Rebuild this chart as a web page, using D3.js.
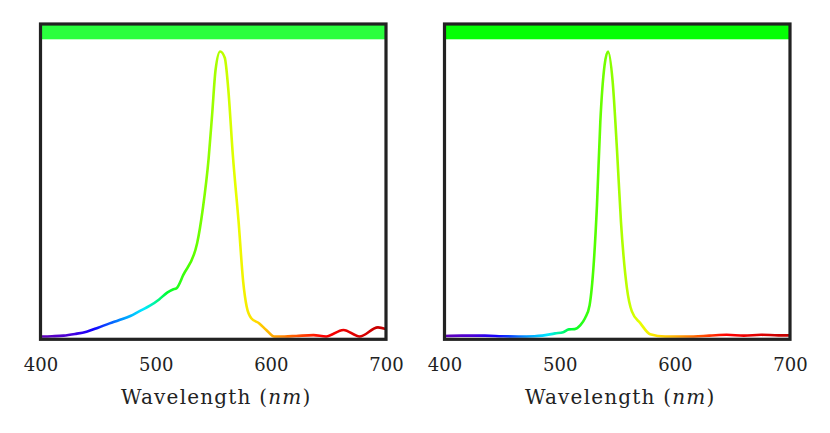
<!DOCTYPE html>
<html>
<head>
<meta charset="utf-8">
<script src="https://cdn.jsdelivr.net/npm/d3@7/dist/d3.min.js"></script>
<style>
    body { margin: 0; background: #fff; }
    svg { display: block; }
</style>
</head>
<body>
<div id="chart"></div>
<script>
// spectra, peak normalised to 1
const leftWavelength = [400, 410, 420, 430, 440, 450, 460, 468, 478, 486, 495, 503, 510, 515, 518, 524, 536, 541, 546, 549, 552, 556, 560, 563, 567, 572, 576, 579, 583, 590, 596, 603, 612, 622, 637, 648, 663, 677, 693, 700];
const leftIntensity = [0.0, 0.001, 0.003, 0.009, 0.017, 0.031, 0.046, 0.057, 0.072, 0.089, 0.108, 0.130, 0.154, 0.165, 0.169, 0.216, 0.327, 0.450, 0.625, 0.777, 0.935, 1.0, 0.978, 0.871, 0.637, 0.403, 0.192, 0.105, 0.064, 0.046, 0.023, 0.0, 0.0, 0.002, 0.005, 0.0, 0.023, 0.0, 0.032, 0.026];

const rightWavelength = [400, 415, 435, 450, 464, 478, 485, 496, 503, 508, 513, 518, 522, 526, 529.5, 532.4, 535.3, 539, 542, 546, 549.7, 553.2, 558.4, 562.7, 570, 578.6, 591.6, 610, 630, 645, 660, 675, 690, 700];
const rightIntensity = [0.002, 0.003, 0.003, 0.001, 0.0, 0.001, 0.003, 0.011, 0.015, 0.025, 0.026, 0.04, 0.064, 0.110, 0.251, 0.461, 0.753, 0.952, 1.0, 0.895, 0.661, 0.404, 0.170, 0.088, 0.047, 0.008, 0.0, 0.0, 0.003, 0.006, 0.003, 0.006, 0.004, 0.004];

const tickValues = [400, 500, 600, 700];
const panelBarColors = ['#2aff3e', '#04ff04'];

const width = 830, height = 433;

const svg = d3.select('#chart').append('svg')
    .attr('width', width)
    .attr('height', height);

const defs = svg.append('defs');

// wavelength -> visible colour
const spectrum = d3.scaleLinear()
    .domain([400, 425, 445, 470, 490, 510, 530, 550, 570, 585, 600, 620, 645, 700])
    .range(['#6000b8', '#4a00d8', '#1400ff', '#0090ff', '#00eaff', '#00ff30', '#50ff00', '#9eff00', '#e8ff00', '#ffe000', '#ffb000', '#ff5c00', '#ff0000', '#c00000'])
    .clamp(true);

const y = d3.scaleLinear().domain([0, 1]).range([336.5, 51.5]);

const panels = [
    { x0: 40.5, x1: 386, wl: leftWavelength, val: leftIntensity, bar: panelBarColors[0] },
    { x0: 444.5, x1: 790, wl: rightWavelength, val: rightIntensity, bar: panelBarColors[1] }
];

const frameTop = 24, frameBottom = 339.3;

panels.forEach((p, i) => {
    const x = d3.scaleLinear().domain([400, 700]).range([p.x0, p.x1]);
    const g = svg.append('g');

    const gradId = `spec-${i}`;
    const grad = defs.append('linearGradient')
        .attr('id', gradId)
        .attr('gradientUnits', 'userSpaceOnUse')
        .attr('x1', x(400)).attr('x2', x(700))
        .attr('y1', 0).attr('y2', 0);
    grad.selectAll('stop')
        .data(d3.range(400, 701, 5))
        .enter().append('stop')
        .attr('offset', d => (d - 400) / 300)
        .attr('stop-color', d => spectrum(d));

    const clipId = `clip-${i}`;
    defs.append('clipPath').attr('id', clipId)
        .append('rect')
        .attr('x', p.x0).attr('y', frameTop)
        .attr('width', p.x1 - p.x0).attr('height', frameBottom - frameTop);

    // colour bar along the top
    g.append('rect')
        .attr('x', p.x0).attr('y', frameTop)
        .attr('width', p.x1 - p.x0).attr('height', 39.3 - frameTop)
        .attr('fill', p.bar);

    const pts = p.wl.map((w, k) => [w, p.val[k]]);
    const line = d3.line()
        .x(d => x(d[0]))
        .y(d => y(d[1]))
        .curve(d3.curveMonotoneX);

    g.append('path')
        .datum(pts)
        .attr('clip-path', `url(#${clipId})`)
        .attr('fill', 'none')
        .attr('stroke', `url(#${gradId})`)
        .attr('stroke-width', 2.6)
        .attr('stroke-linejoin', 'round')
        .attr('d', line);

    g.append('rect')
        .attr('x', p.x0).attr('y', frameTop)
        .attr('width', p.x1 - p.x0).attr('height', frameBottom - frameTop)
        .attr('fill', 'none')
        .attr('stroke', '#222')
        .attr('stroke-width', 3.2);

    const axis = d3.axisBottom(x).tickValues(tickValues).tickSize(0).tickPadding(0);
    const ax = g.append('g')
        .attr('transform', `translate(0,${frameBottom})`)
        .call(axis);
    ax.select('.domain').remove();
    ax.selectAll('text')
        .attr('dy', null)
        .attr('y', 32)
        .style('font-family', '"DejaVu Serif", serif')
        .style('font-size', '18px')
        .attr('fill', '#222');

    const label = g.append('text')
        .attr('x', (p.x0 + p.x1) / 2 + 3)
        .attr('y', 403.5)
        .attr('text-anchor', 'middle')
        .style('font-family', '"DejaVu Serif", serif')
        .style('font-size', '20px')
        .style('letter-spacing', '1.2px')
        .attr('fill', '#222');
    label.append('tspan').text('Wavelength (');
    label.append('tspan').style('font-style', 'italic').text('nm');
    label.append('tspan').text(')');
});
</script>
</body>
</html>
